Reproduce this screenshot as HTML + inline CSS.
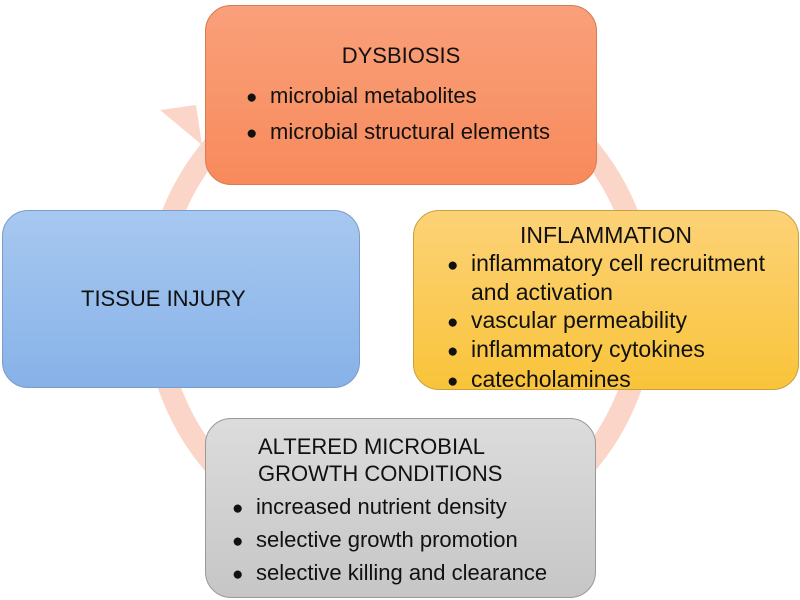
<!DOCTYPE html>
<html><head><style>
body{margin:0;width:800px;height:600px;background:#fff;position:relative;overflow:hidden;font-family:"Liberation Sans",sans-serif;color:#111}
.b{position:absolute;box-sizing:border-box;border-radius:26px;font-size:22px;line-height:27px}
.t{text-align:center}
ul{margin:0;padding:0;list-style:none}
li{padding-left:24px;text-indent:-24px;white-space:nowrap}
li:before{content:"●";display:inline-block;width:24px;text-indent:0;font-size:19px}
</style></head><body>
<svg width="800" height="600" style="position:absolute;left:0;top:0">
<circle cx="400" cy="305" r="245" fill="none" stroke="#fbd5c8" stroke-width="22"/>
<polygon points="160,110 196,105 202,145" fill="#fbd5c8"/>
</svg>
<div class="b" style="left:205px;top:5px;width:392px;height:180px;background:linear-gradient(#f9a07a,#f88a5c);border:1px solid #d97a50;padding-top:36px">
<div class="t">DYSBIOSIS</div>
<ul style="margin:10px 0 0 40px;line-height:34px"><li>microbial metabolites</li><li>microbial structural elements</li></ul>
</div>
<div class="b" style="left:413px;top:210px;width:386px;height:180px;background:linear-gradient(#fcd277,#f9c43a);border:1px solid #c9a040;padding-top:11px;font-size:23px;line-height:27.5px">
<div class="t">INFLAMMATION</div>
<ul style="margin:0 0 0 33px"><li>inflammatory cell recruitment<br>and activation</li><li>vascular permeability</li><li>inflammatory cytokines</li><li>catecholamines</li></ul>
</div>
<div class="b" style="left:2px;top:210px;width:358px;height:178px;background:linear-gradient(#a7c8f0,#87b2e8);border:1px solid #7a9cc8;padding-top:74px;padding-left:78px">TISSUE INJURY</div>
<div class="b" style="left:205px;top:418px;width:391px;height:180px;background:linear-gradient(#dcdcdc,#c6c6c6);border:1px solid #999;padding-top:14px">
<div style="margin-left:52px">ALTERED MICROBIAL<br>GROWTH CONDITIONS</div>
<ul style="margin:4px 0 0 26px;line-height:31px"><li>increased nutrient density</li><li>selective growth promotion</li><li>selective killing and clearance</li></ul>
</div>
</body></html>
